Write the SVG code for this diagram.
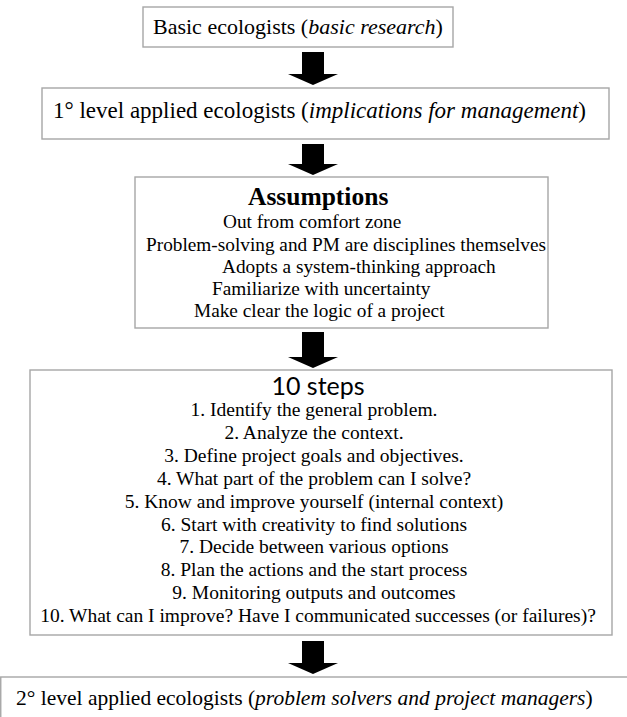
<svg xmlns="http://www.w3.org/2000/svg" width="627" height="717" viewBox="0 0 627 717">
<style>
.box{fill:#fff;stroke:#a6a6a6;stroke-width:1.4}
.t{font-family:"Liberation Serif","Times New Roman",serif;fill:#000}
.mid{font-size:19.3px}
.stp{font-size:19.5px;text-anchor:middle}
.it{font-style:italic}
.ttl{font-size:25.5px;font-weight:bold}
.sans{font-family:Lato,"Open Sans","Liberation Sans",sans-serif;font-size:25px;fill:#000;text-anchor:middle}
.arr{fill:#000}
</style>
<rect width="627" height="717" fill="#fff"/>
<g id="connectors">
<polygon class="arr" points="302,52 324,52 324,74 338,74 313,85 288,74 302,74"/>
<polygon class="arr" points="302,144 324,144 324,164 338,164 313,175 288,164 302,164"/>
<polygon class="arr" points="302,332 324,332 324,357 338,357 313,368 288,357 302,357"/>
<polygon class="arr" points="302,641 324,641 324,663 338,663 313,674 288,663 302,663"/>
</g>
<g id="basic">
<rect class="box" x="143" y="7" width="310" height="40"/>
<text class="t" font-size="22" x="153" y="34">Basic ecologists (<tspan class="it">basic research</tspan>)</text>
</g>
<g id="level1">
<rect class="box" x="42" y="88" width="567" height="51"/>
<text class="t" font-size="23" x="53" y="118">1° level applied ecologists (<tspan class="it">implications for management</tspan>)</text>
</g>
<g id="assumptions">
<rect class="box" x="135" y="177" width="413" height="151"/>
<text class="t ttl" x="248" y="205">Assumptions</text>
<text class="t mid" x="223" y="228">Out from comfort zone</text>
<text class="t mid" x="146" y="251">Problem-solving and PM are disciplines themselves</text>
<text class="t mid" x="222" y="273">Adopts a system-thinking approach</text>
<text class="t mid" x="212" y="295">Familiarize with uncertainty</text>
<text class="t mid" x="194" y="317">Make clear the logic of a project</text>
</g>
<g id="steps">
<rect class="box" x="30" y="370" width="582" height="265"/>
<text class="sans" x="318" y="395">10 steps</text>
<text class="t stp" x="314" y="416">1. Identify the general problem.</text>
<text class="t stp" x="314" y="439">2. Analyze the context.</text>
<text class="t stp" x="314" y="462">3. Define project goals and objectives.</text>
<text class="t stp" x="314" y="485">4. What part of the problem can I solve?</text>
<text class="t stp" x="314" y="508">5. Know and improve yourself (internal context)</text>
<text class="t stp" x="314" y="531">6. Start with creativity to find solutions</text>
<text class="t stp" x="314" y="553">7. Decide between various options</text>
<text class="t stp" x="314" y="576">8. Plan the actions and the start process</text>
<text class="t stp" x="314" y="599">9. Monitoring outputs and outcomes</text>
<text class="t stp" x="318" y="622">10. What can I improve? Have I communicated successes (or failures)?</text>
</g>
<g id="level2">
<rect class="box" x="0.75" y="677" width="640" height="60"/>
<text class="t" font-size="21.5" x="16" y="705">2° level applied ecologists (<tspan class="it">problem solvers and project managers</tspan>)</text>
</g>
</svg>
